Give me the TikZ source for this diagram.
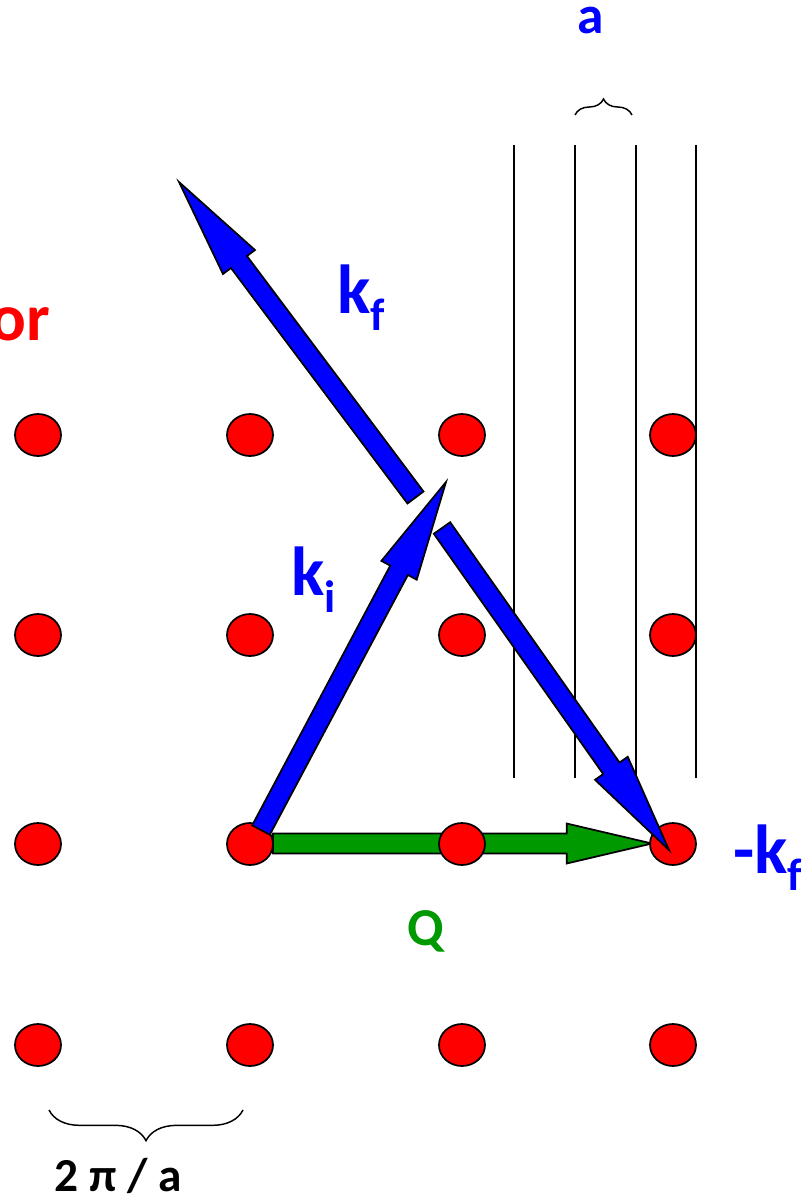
\documentclass[tikz,border=0pt]{standalone}
\usepackage{fontspec}
\setmainfont{Carlito}
\usetikzlibrary{calc,decorations.pathreplacing}

\definecolor{kblue}{RGB}{0,0,255}
\definecolor{qgreen}{RGB}{0,153,0}
\definecolor{dotred}{RGB}{255,0,0}

% block arrow: colour, tail, tip, head length, name of head base
\newcommand{\blockarrow}[5]{%
  \coordinate (#5) at ($(#3)!#4!(#2)$);
  \draw[fill=#1,line width=1.3pt,line join=miter]
    ($(#2)!7.5pt!90:(#3)$) -- ($(#5)!7.5pt!90:(#3)$) -- ($(#5)!15pt!90:(#3)$)
    -- (#3) -- ($(#5)!15pt!-90:(#3)$) -- ($(#5)!7.5pt!-90:(#3)$)
    -- ($(#2)!7.5pt!-90:(#3)$) -- cycle;}

\begin{document}
\begin{tikzpicture}[x=0.75pt,y=-0.75pt,
    dot/.style={draw=black,fill=dotred,line width=1.3pt},
    planeline/.style={black,line width=1.1pt},
    lbl/.style={font=\bfseries\fontsize{52}{60}\selectfont,inner sep=0pt}]
    \useasboundingbox (0,0) rectangle (804,1200);

    % lattice points
    \foreach \i/\x in {1/38,2/250,3/462,4/673}
      \foreach \j/\y in {1/435,2/635,3/844,4/1045}
        \coordinate (d\i\j) at (\x,\y);

    % Q
    \coordinate (qtail) at (273,843.5);
    \coordinate (qtip) at (652,843.5);
    \blockarrow{qgreen}{qtail}{qtip}{64pt}{qbase}

    \foreach \i in {1,...,4}
      \foreach \j in {1,...,4}
        \draw[dot] (d\i\j) ellipse (23 and 21);

    % lattice planes
    \foreach \x in {514,575,636,696}
      \draw[planeline] (\x,145) -- (\x,778);

    % wave vectors
    \coordinate (kitail) at (261,830);
    \coordinate (kitip) at (446,482);
    \coordinate (kftail) at (415.5,497.5);
    \coordinate (kftip) at (179,182);
    \coordinate (mkftail) at (442,528);
    \coordinate (mkftip) at (669,850);
    \blockarrow{kblue}{kitail}{kitip}{75pt}{kibase}
    \blockarrow{kblue}{kftail}{kftip}{75pt}{kfbase}
    \blockarrow{kblue}{mkftail}{mkftip}{75pt}{mkfbase}

    % braces
    \draw[line width=1.1pt,decorate,decoration={brace,amplitude=12pt}]
      (575,115) -- (632,115);
    \draw[line width=1.1pt,decorate,decoration={brace,mirror,amplitude=23pt}]
      (49,1110) -- (243,1110);

    % labels
    \node[lbl,text=kblue,anchor=base,font=\bfseries\fontsize{40}{40}\selectfont] (alabel) at (591,33) {a};
    \node[lbl,anchor=base,font=\bfseries\fontsize{35.5}{40}\selectfont] (twopi) at (118,1191) {2 π / a};
    \node[lbl,text=dotred,anchor=base east,font=\bfseries\fontsize{50}{60}\selectfont] (orlabel) at (50,340) {or};
    \node[lbl,text=kblue,anchor=base west] (kflabel) at (337,313)
      {k\raisebox{-12.75pt}{\fontsize{34}{34}\selectfont f}};
    \node[lbl,text=kblue,anchor=base west] (kilabel) at (291,595)
      {k\raisebox{-12.75pt}{\fontsize{34}{34}\selectfont i}};
    \node[lbl,text=kblue,anchor=base west] (mkflabel) at (733,873)
      {-k\raisebox{-12.75pt}{\fontsize{34}{34}\selectfont f}};
    \node[lbl,text=qgreen,anchor=base,font=\bfseries\fontsize{40}{46}\selectfont] (qlabel) at (426,945) {Q};
\end{tikzpicture}
\end{document}
